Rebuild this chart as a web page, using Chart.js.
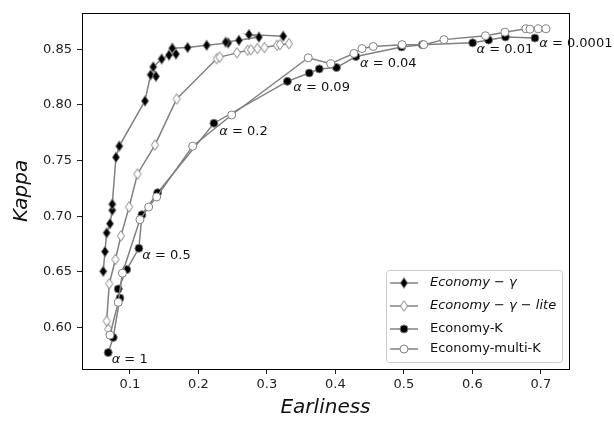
<!DOCTYPE html>
<html>
<head>
<meta charset="utf-8">
<script src="https://cdn.jsdelivr.net/npm/chart.js@4.4.1/dist/chart.umd.min.js"></script>
<style>
    html, body { margin: 0; padding: 0; background: #fff; }
    canvas { display: block; }
</style>
</head>
<body>
<canvas id="graficaKappa" width="614" height="421"></canvas>
<script>
    // Series (Earliness, Kappa)
    const gammaX = [0.0610, 0.0635, 0.0660, 0.0708, 0.0742, 0.0742, 0.0796, 0.0844, 0.1219, 0.1302, 0.1380, 0.1340,
                    0.1463, 0.1570, 0.1672, 0.1618, 0.1842, 0.2120, 0.2435, 0.2397, 0.2591, 0.2883, 0.2737, 0.3238];
    const gammaY = [0.6505, 0.6682, 0.6850, 0.6932, 0.7053, 0.7108, 0.7529, 0.7629, 0.8035, 0.8270, 0.8256, 0.8341,
                    0.8412, 0.8447, 0.8456, 0.8509, 0.8515, 0.8535, 0.8556, 0.8564, 0.8580, 0.8609, 0.8632, 0.8617];

    const liteX = [0.0683, 0.0660, 0.0698, 0.0788, 0.0869, 0.0988, 0.1110, 0.1365, 0.1682, 0.2266, 0.2309, 0.2562,
                   0.2718, 0.2766, 0.2861, 0.2964, 0.3146, 0.3190, 0.3321];
    const liteY = [0.5985, 0.6058, 0.6393, 0.6611, 0.6823, 0.7083, 0.7379, 0.7639, 0.8053, 0.8414, 0.8429, 0.8467,
                   0.8491, 0.8494, 0.8506, 0.8515, 0.8535, 0.8541, 0.8549];

    const kX = [0.0683, 0.0756, 0.0854, 0.0829, 0.0952, 0.1131, 0.1175, 0.1404, 0.2226, 0.3299, 0.3618, 0.3764,
                0.4015, 0.4299, 0.4966, 0.5270, 0.6003, 0.6236, 0.6482, 0.6912];
    const kY = [0.5775, 0.5910, 0.6264, 0.6346, 0.6520, 0.6711, 0.7013, 0.7211, 0.7835, 0.8211, 0.8286, 0.8323,
                0.8335, 0.8434, 0.8520, 0.8540, 0.8557, 0.8582, 0.8609, 0.8600];

    const multiX = [0.0708, 0.0829, 0.0890, 0.1146, 0.1273, 0.1390, 0.1915, 0.2485, 0.3603, 0.3931, 0.4270, 0.4387,
                    0.4552, 0.4974, 0.5289, 0.5584, 0.6190, 0.6474, 0.6781, 0.6840, 0.6961, 0.7073];
    const multiY = [0.5932, 0.6226, 0.6488, 0.6969, 0.7082, 0.7173, 0.7629, 0.7909, 0.8423, 0.8369, 0.8462, 0.8506,
                    0.8524, 0.8541, 0.8541, 0.8586, 0.8621, 0.8653, 0.8683, 0.8680, 0.8683, 0.8683];

    const nombresSeries = ['Economy − γ', 'Economy − γ − lite', 'Economy-K', 'Economy-multi-K'];

    // Etiquetas alpha (posicion del texto en unidades de datos)
    const alphaValores = ['1', '0.5', '0.2', '0.09', '0.04', '0.01', '0.0001'];
    const alphaX = [0.0733, 0.1180, 0.2304, 0.3384, 0.4358, 0.6061, 0.6975];
    const alphaY = [0.5684, 0.6614, 0.7732, 0.8123, 0.8344, 0.8467, 0.8520];

    const xTicks = [0.1, 0.2, 0.3, 0.4, 0.5, 0.6, 0.7];
    const yTicks = [0.60, 0.65, 0.70, 0.75, 0.80, 0.85];

    const GRIS = '#808080';
    const FUENTE = 'DejaVu Sans';

    function crearRombo(relleno) {
        const c = document.createElement('canvas');
        c.width = 10; c.height = 13;
        const g = c.getContext('2d');
        g.beginPath();
        g.moveTo(5, 1.3); g.lineTo(8.6, 6.5); g.lineTo(5, 11.7); g.lineTo(1.4, 6.5);
        g.closePath();
        g.fillStyle = relleno; g.fill();
        g.strokeStyle = GRIS; g.lineWidth = 1; g.stroke();
        return c;
    }

    const romboNegro = crearRombo('#000');
    const romboBlanco = crearRombo('#fff');

    const puntos = (xs, ys) => xs.map((v, i) => ({ x: v, y: ys[i] }));

    function serie(nombre, datos, estilo, relleno, orden) {
        return {
            label: nombre,
            data: datos,
            borderColor: GRIS,
            borderWidth: 1.5,
            pointStyle: estilo,
            pointRadius: 4,
            pointBorderWidth: 1,
            pointBorderColor: GRIS,
            pointBackgroundColor: relleno,
            fill: false,
            tension: 0,
            order: orden
        };
    }

    const dibujosExtra = {
        id: 'dibujosExtra',
        afterDatasetsDraw(chart) {
            const { ctx, chartArea: a, scales: { x, y } } = chart;
            ctx.save();

            // marco de los ejes
            ctx.strokeStyle = '#000';
            ctx.lineWidth = 1;
            ctx.strokeRect(Math.round(a.left) + 0.5, Math.round(a.top) + 0.5,
                           Math.round(a.right - a.left), Math.round(a.bottom - a.top));

            // textos alpha
            ctx.fillStyle = '#111';
            ctx.textBaseline = 'alphabetic';
            ctx.textAlign = 'left';
            alphaValores.forEach((v, i) => {
                const px = x.getPixelForValue(alphaX[i]);
                const py = y.getPixelForValue(alphaY[i]);
                ctx.font = 'italic 13px ' + FUENTE;
                ctx.fillText('α', px, py);
                const w = ctx.measureText('α').width;
                ctx.font = '13px ' + FUENTE;
                ctx.fillText(' = ' + v, px + w, py);
            });

            // leyenda
            const derecha = a.right - 7, abajo = a.bottom - 7;
            const izq = derecha - 176, arriba = abajo - 92;
            ctx.beginPath();
            ctx.roundRect(izq + 0.5, arriba + 0.5, derecha - izq, abajo - arriba, 3);
            ctx.fillStyle = 'rgba(255,255,255,0.8)';
            ctx.fill();
            ctx.strokeStyle = '#cccccc';
            ctx.stroke();

            const filas = [13, 36, 59, 79];
            const marcadores = [romboNegro, romboBlanco, 'negro', 'blanco'];
            chart.data.datasets.forEach((ds, i) => {
                const fy = arriba + filas[i];
                ctx.strokeStyle = GRIS;
                ctx.lineWidth = 1.5;
                ctx.beginPath();
                ctx.moveTo(izq + 4, fy);
                ctx.lineTo(izq + 32, fy);
                ctx.stroke();
                const m = marcadores[i];
                if (typeof m === 'string') {
                    ctx.beginPath();
                    ctx.arc(izq + 18, fy, 4, 0, Math.PI * 2);
                    ctx.fillStyle = m === 'negro' ? '#000' : '#fff';
                    ctx.fill();
                    ctx.lineWidth = 1;
                    ctx.stroke();
                } else {
                    ctx.drawImage(m, izq + 18 - m.width / 2, fy - m.height / 2);
                }
                ctx.fillStyle = '#111';
                ctx.textBaseline = 'middle';
                ctx.font = (i < 2 ? 'italic ' : '') + '13px ' + FUENTE;
                ctx.fillText(ds.label, izq + 44, fy);
            });

            ctx.restore();
        }
    };

    new Chart(document.getElementById('graficaKappa'), {
        type: 'line',
        data: {
            datasets: [
                serie(nombresSeries[0], puntos(gammaX, gammaY), romboNegro, '#000', 4),
                serie(nombresSeries[1], puntos(liteX, liteY), romboBlanco, '#fff', 3),
                serie(nombresSeries[2], puntos(kX, kY), 'circle', '#000', 2),
                serie(nombresSeries[3], puntos(multiX, multiY), 'circle', '#fff', 1)
            ]
        },
        options: {
            responsive: false,
            animation: false,
            devicePixelRatio: 1,
            layout: { padding: { left: 0, right: 45, top: 7, bottom: 0 } },
            plugins: {
                legend: { display: false },
                tooltip: { enabled: false }
            },
            scales: {
                x: {
                    type: 'linear',
                    min: 0.030,
                    max: 0.741,
                    afterBuildTicks: s => { s.ticks = xTicks.map(v => ({ value: v })); },
                    afterFit: s => { s.height = 52; },
                    ticks: {
                        callback: v => v.toFixed(1),
                        color: '#222',
                        font: { family: FUENTE, size: 13 },
                        padding: 3,
                        maxRotation: 0
                    },
                    grid: { drawOnChartArea: false, drawTicks: true, tickLength: 5, color: '#222' },
                    border: { display: false },
                    title: {
                        display: true,
                        text: 'Earliness',
                        color: '#111',
                        font: { family: FUENTE, size: 20, style: 'italic' },
                        padding: { top: 0, bottom: 1 }
                    }
                },
                y: {
                    type: 'linear',
                    min: 0.5627,
                    max: 0.8827,
                    afterBuildTicks: s => { s.ticks = yTicks.map(v => ({ value: v })); },
                    afterFit: s => { s.width = 82; },
                    ticks: {
                        callback: v => v.toFixed(2),
                        color: '#222',
                        font: { family: FUENTE, size: 13 },
                        padding: 5
                    },
                    grid: { drawOnChartArea: false, drawTicks: true, tickLength: 5, color: '#222' },
                    border: { display: false },
                    title: {
                        display: true,
                        text: 'Kappa',
                        color: '#111',
                        font: { family: FUENTE, size: 20, style: 'italic' },
                        padding: { top: 10, bottom: 0 }
                    }
                }
            }
        },
        plugins: [dibujosExtra]
    });
</script>
</body>
</html>
